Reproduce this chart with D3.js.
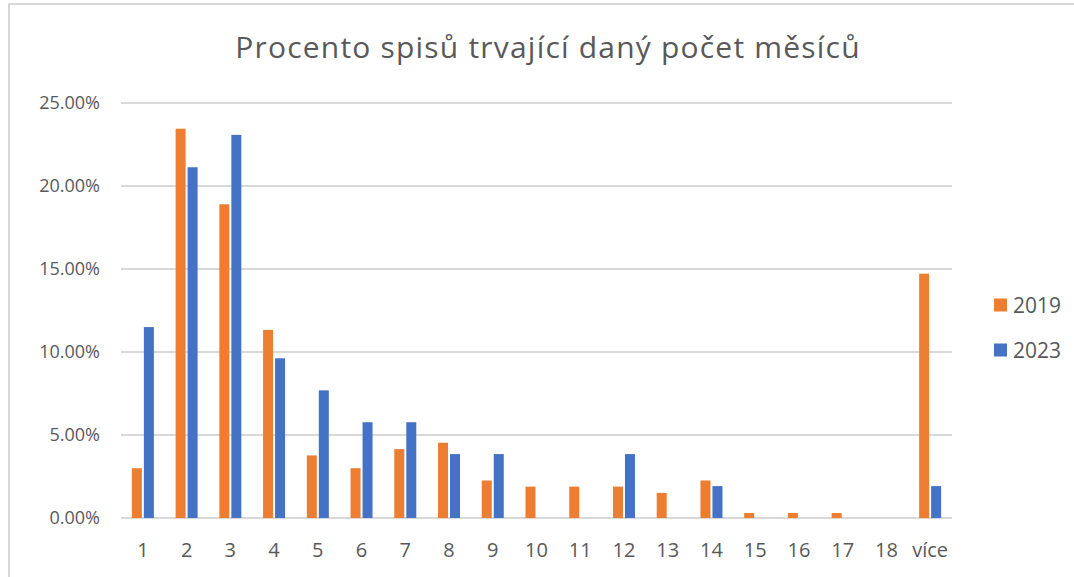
<!DOCTYPE html>
<html>
<head>
<meta charset="utf-8">
<script src="https://cdn.jsdelivr.net/npm/d3@7"></script>
<style>
  body { margin: 0; background: #fff; }
  svg { display: block; font-family: "Open Sans", "Noto Sans", sans-serif; }
</style>
</head>
<body>
<div id="chart"></div>
<script>
// Month categories and share of files per year
const categories = ['1', '2', '3', '4', '5', '6', '7', '8', '9', '10', '11', '12', '13', '14', '15', '16', '17', '18', 'více'];
const values2019 = [3.0, 23.45, 18.9, 11.33, 3.77, 3.0, 4.15, 4.53, 2.26, 1.89, 1.89, 1.89, 1.51, 2.26, 0.3, 0.3, 0.3, 0, 14.72];
const values2023 = [11.5, 21.13, 23.08, 9.62, 7.69, 5.77, 5.77, 3.85, 3.85, 0, 0, 3.85, 0, 1.92, 0, 0, 0, 0, 1.92];
const seriesNames = ['2019', '2023'];
const yTicks = [0, 5, 10, 15, 20, 25];

const COLORS = ['#ed7d31', '#4472c4'];
const TEXT = '#595959';
const GRID = '#d9d9d9';

const width = 1074, height = 577;
const plot = { left: 121, right: 952, top: 103, bottom: 518 };

const svg = d3.select('#chart').append('svg')
  .attr('width', width)
  .attr('height', height);

// Chart frame (cut by the screenshot on right/bottom)
svg.append('rect')
  .attr('x', 9).attr('y', 4)
  .attr('width', 1200).attr('height', 700)
  .attr('fill', '#fff')
  .attr('stroke', GRID)
  .attr('stroke-width', 2);

const x = d3.scaleBand()
  .domain(categories)
  .range([plot.left, plot.right]);

const y = d3.scaleLinear()
  .domain([0, 25])
  .range([plot.bottom, plot.top]);

// Gridlines
svg.append('g')
  .selectAll('line')
  .data(yTicks)
  .join('line')
  .attr('x1', plot.left).attr('x2', plot.right)
  .attr('y1', d => y(d)).attr('y2', d => y(d))
  .attr('stroke', GRID)
  .attr('stroke-width', 2);

// Y axis labels
svg.append('g')
  .selectAll('text')
  .data(yTicks)
  .join('text')
  .attr('x', 100)
  .attr('y', d => y(d))
  .attr('dy', '0.36em')
  .attr('text-anchor', 'end')
  .attr('font-size', 18)
  .attr('fill', TEXT)
  .text(d => d.toFixed(2) + '%');

// X axis labels
svg.append('g')
  .selectAll('text')
  .data(categories)
  .join('text')
  .attr('x', d => x(d) + x.bandwidth() / 2)
  .attr('y', 557)
  .attr('text-anchor', 'middle')
  .attr('font-size', 20)
  .attr('fill', TEXT)
  .text(d => d);

// Bars
const barW = 10, gap = 2;
const sub = d3.scaleOrdinal().domain(seriesNames)
  .range([-(barW + gap / 2), gap / 2]);

const rows = [];
categories.forEach((c, i) => {
  rows.push({ cat: c, series: '2019', v: values2019[i] });
  rows.push({ cat: c, series: '2023', v: values2023[i] });
});

svg.append('g')
  .selectAll('rect')
  .data(rows.filter(d => d.v > 0))
  .join('rect')
  .attr('x', d => x(d.cat) + x.bandwidth() / 2 + sub(d.series))
  .attr('y', d => y(d.v))
  .attr('width', barW)
  .attr('height', d => y(0) - y(d.v))
  .attr('fill', d => d.series === '2019' ? COLORS[0] : COLORS[1]);

// Title
svg.append('text')
  .attr('x', 548)
  .attr('y', 58)
  .attr('text-anchor', 'middle')
  .attr('font-size', 30)
  .attr('letter-spacing', 1.2)
  .attr('fill', TEXT)
  .text('Procento spisů trvající daný počet měsíců');

// Legend
const legend = svg.append('g')
  .selectAll('g')
  .data(seriesNames)
  .join('g')
  .attr('transform', (d, i) => `translate(994,${305 + i * 45})`);

legend.append('rect')
  .attr('x', 0).attr('y', -6.5)
  .attr('width', 13).attr('height', 13)
  .attr('fill', (d, i) => COLORS[i]);

legend.append('text')
  .attr('x', 19)
  .attr('dy', '0.36em')
  .attr('font-size', 21)
  .attr('fill', TEXT)
  .text(d => d);
</script>
</body>
</html>
